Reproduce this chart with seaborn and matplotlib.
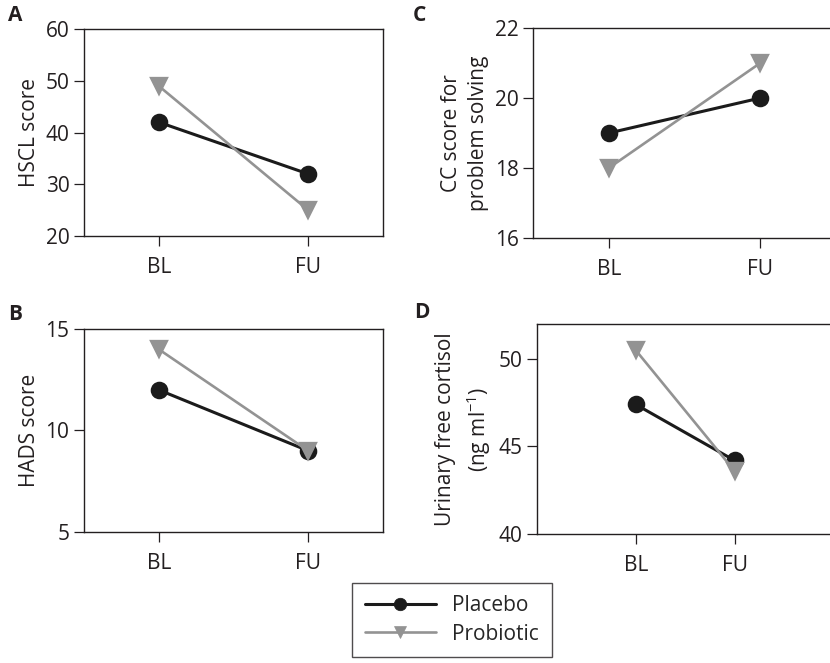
import matplotlib
matplotlib.use("Agg")
import matplotlib.pyplot as plt
import seaborn as sns
import pandas as pd

sns.set_theme(style="ticks")
plt.rcParams["font.family"] = ["Open Sans", "DejaVu Sans"]
plt.rcParams["mathtext.fontset"] = "custom"
plt.rcParams["mathtext.rm"] = "Open Sans"
plt.rcParams["mathtext.it"] = "Open Sans"

timepoints = ["BL", "FU"]
groups = ["Placebo", "Probiotic"]

hscl_placebo = [42, 32]
hscl_probiotic = [49, 25]
hads_placebo = [12, 9]
hads_probiotic = [14, 9]
cc_placebo = [19, 20]
cc_probiotic = [18, 21]
cortisol_placebo = [47.4, 44.2]
cortisol_probiotic = [50.5, 43.6]

palette = {"Placebo": "#1b1b1b", "Probiotic": "#939393"}
INK = "#231f20"
FS = 15


def frame(placebo, probiotic):
    rows = []
    for t, v in zip(timepoints, placebo):
        rows.append({"time": t, "group": "Placebo", "value": v})
    for t, v in zip(timepoints, probiotic):
        rows.append({"time": t, "group": "Probiotic", "value": v})
    return pd.DataFrame(rows)


fig = plt.figure(figsize=(8.3, 6.63), dpi=100)
ax_a = fig.add_axes([0.1012, 0.644, 0.3602, 0.3122])
ax_b = fig.add_axes([0.1012, 0.1976, 0.3602, 0.3062])
ax_c = fig.add_axes([0.6422, 0.641, 0.365, 0.3167])
ax_d = fig.add_axes([0.647, 0.1946, 0.357, 0.3167])

panels = [
    (ax_a, hscl_placebo, hscl_probiotic, "HSCL score", (20, 60), [20, 30, 40, 50, 60], (-0.5, 1.5)),
    (ax_b, hads_placebo, hads_probiotic, "HADS score", (5, 15), [5, 10, 15], (-0.5, 1.5)),
    (ax_c, cc_placebo, cc_probiotic, "CC score for\nproblem solving", (16, 22), [16, 18, 20, 22], (-0.5, 1.5)),
    (ax_d, cortisol_placebo, cortisol_probiotic, "Urinary free cortisol\n(ng ml$^{-1}$)", (40, 52), [40, 45, 50], (-1, 2)),
]

for ax, pl, pr, ylabel, ylim, yticks, xlim in panels:
    df = frame(pl, pr)
    sns.pointplot(data=df, x="time", y="value", hue="group", order=timepoints,
                  hue_order=groups, palette=palette, markers=["o", "v"],
                  linestyles=["-", "-"], dodge=False, errorbar=None,
                  markersize=11, linewidth=2.2, ax=ax, legend=(ax is ax_a))
    for line in ax.lines:
        if line.get_color() == palette["Probiotic"]:
            line.set_linewidth(1.9)
    ax.set_xlim(*xlim)
    ax.set_ylim(*ylim)
    ax.set_yticks(yticks)
    ax.set_xlabel("")
    ax.set_ylabel(ylabel, fontsize=FS, color=INK, linespacing=1.4)
    ax.tick_params(axis="both", labelsize=FS, colors=INK, length=7, width=0.9,
                   direction="out")
    ax.tick_params(axis="x", pad=8)
    for s in ax.spines.values():
        s.set_visible(True)
        s.set_linewidth(1.0)
        s.set_color(INK)

handles, labels = ax_a.get_legend_handles_labels()
ax_a.get_legend().remove()
for h in handles:
    h.set_markersize(9)
    h.set_markeredgewidth(0.5)
leg = fig.legend(handles, labels, loc="upper center", bbox_to_anchor=(0.5446, 0.1207),
                 fontsize=FS, frameon=True, fancybox=False, edgecolor=INK,
                 handlelength=3.4, handletextpad=0.8, borderpad=0.6, labelspacing=0.35,
                 borderaxespad=0, numpoints=1)
leg.get_frame().set_linewidth(1.0)

for label, x, y in [("A", 0.010, 0.976), ("B", 0.010, 0.525), ("C", 0.497, 0.976), ("D", 0.499, 0.529)]:
    fig.text(x, y, label, fontsize=15, fontweight="bold", color=INK, va="center")

fig.savefig("out.png", dpi=100)
